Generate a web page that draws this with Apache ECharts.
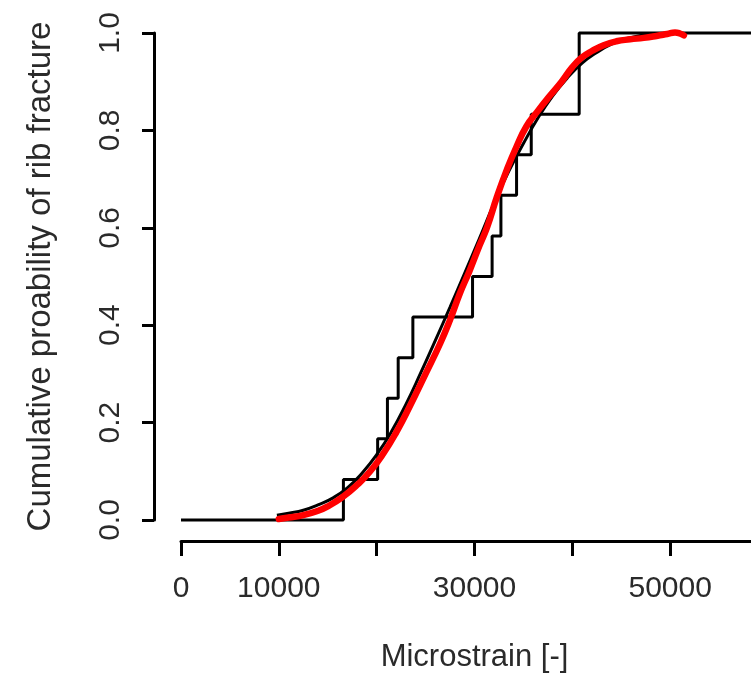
<!DOCTYPE html>
<html>
<head>
<meta charset="utf-8">
<title>Cumulative probability of rib fracture</title>
<script src="https://cdn.jsdelivr.net/npm/echarts@6/dist/echarts.min.js"></script>
<style>
  html, body { margin: 0; padding: 0; background: #fff; }
  #chart { width: 751px; height: 673px; }
</style>
</head>
<body>
<div id="chart"></div>
<script>
// Empirical CDF of the observed fracture strains (microstrain) and its levels
const ecdfStrain = [16600, 20100, 21100, 22200, 23700, 29800, 31800, 32700, 34300, 35800, 40700, 40700];
const ecdfProb   = [0.083, 0.167, 0.250, 0.333, 0.417, 0.500, 0.583, 0.667, 0.750, 0.833, 0.917, 1.000];

// Fitted cumulative probability curve (thin black)
const fitStrain = [9800, 11000, 12500, 14000, 15500, 17000, 18500, 20000, 21500, 23000, 24500, 26000, 27500,
                   29000, 30500, 32000, 33500, 35000, 36500, 38000, 39500, 41000, 42500, 44000, 45500, 47000, 48500, 50000];
const fitProb   = [0.010, 0.014, 0.020, 0.031, 0.045, 0.066, 0.096, 0.134, 0.181, 0.238, 0.302, 0.369, 0.437,
                   0.507, 0.578, 0.650, 0.716, 0.773, 0.826, 0.871, 0.908, 0.938, 0.960, 0.977, 0.988, 0.995, 0.998, 1.000];

// Smoothed cumulative probability curve (thick red)
const smoothStrain = [10000, 11000, 12500, 14000, 15000, 16500, 18000, 19300, 20700, 22000, 23400, 25000, 26500,
                      27500, 28500, 29500, 30500, 31300, 32300, 33300, 34300, 35300, 36400, 37700, 38900, 40000,
                      41000, 42000, 43200, 44500, 45900, 47300, 48600, 49700, 50500, 51000, 51400];
const smoothProb   = [0.002, 0.005, 0.010, 0.019, 0.028, 0.047, 0.072, 0.099, 0.137, 0.180, 0.234, 0.300, 0.363,
                      0.411, 0.465, 0.512, 0.563, 0.602, 0.664, 0.719, 0.767, 0.808, 0.838, 0.871, 0.900, 0.930,
                      0.950, 0.963, 0.975, 0.983, 0.987, 0.990, 0.994, 0.998, 1.001, 0.999, 0.995];

// Axis ticks and the tick labels that are printed
const xMin = 0, xMax = 60000, xStep = 10000;
const xLabelsShown = [0, 10000, 30000, 50000];
const yMin = 0, yMax = 1, yStep = 0.2;

const ecdfData = [[xMin, 0]];
ecdfStrain.forEach((x, i) => ecdfData.push([x, ecdfProb[i]]));
ecdfData.push([xMax, 1]);

const fitData = fitStrain.map((x, i) => [x, fitProb[i]]);
const smoothData = smoothStrain.map((x, i) => [x, smoothProb[i]]);

const FONT = '"Liberation Sans", Arial, sans-serif';
const TEXT = '#2a2a2a';

const chart = echarts.init(document.getElementById('chart'), null, { renderer: 'canvas' });
chart.setOption({
  animation: false,
  backgroundColor: '#ffffff',
  grid: { left: 181, right: -17, top: 33, bottom: 153, containLabel: false, outerBoundsMode: 'none' },
  xAxis: {
    type: 'value',
    min: xMin, max: xMax, interval: xStep,
    offset: 21,
    name: 'Microstrain [-]',
    nameLocation: 'middle',
    nameGap: 101,
    nameTextStyle: { fontFamily: FONT, fontSize: 31, color: TEXT },
    axisLine: { show: true, onZero: false, lineStyle: { color: '#000', width: 3 } },
    axisTick: { show: true, length: 15, lineStyle: { color: '#000', width: 3 } },
    axisLabel: {
      margin: 33,
      fontFamily: FONT, fontSize: 30, color: TEXT,
      formatter: v => (xLabelsShown.includes(v) ? String(v) : '')
    },
    splitLine: { show: false }
  },
  yAxis: {
    type: 'value',
    min: yMin, max: yMax, interval: yStep,
    offset: 27,
    name: 'Cumulative proability of rib fracture',
    nameLocation: 'middle',
    nameRotate: 90,
    nameGap: 97,
    nameTextStyle: { fontFamily: FONT, fontSize: 33, color: TEXT },
    axisLine: { show: true, onZero: false, lineStyle: { color: '#000', width: 3 } },
    axisTick: { show: true, length: 12, lineStyle: { color: '#000', width: 3 } },
    axisLabel: {
      rotate: 90,
      margin: 28,
      fontFamily: FONT, fontSize: 30, color: TEXT,
      formatter: v => v.toFixed(1)
    },
    splitLine: { show: false }
  },
  series: [
    {
      name: 'ECDF',
      type: 'line',
      step: 'end',
      data: ecdfData,
      symbol: 'none',
      clip: false,
      lineStyle: { color: '#000', width: 3 },
      z: 2
    },
    {
      name: 'Fitted',
      type: 'line',
      smooth: true,
      data: fitData,
      symbol: 'none',
      clip: false,
      lineStyle: { color: '#000', width: 3 },
      z: 3
    },
    {
      name: 'Smoothed',
      type: 'line',
      smooth: true,
      data: smoothData,
      symbol: 'none',
      clip: false,
      lineStyle: { color: '#ff0000', width: 6.5, cap: 'round' },
      z: 4
    }
  ]
});
</script>
</body>
</html>
